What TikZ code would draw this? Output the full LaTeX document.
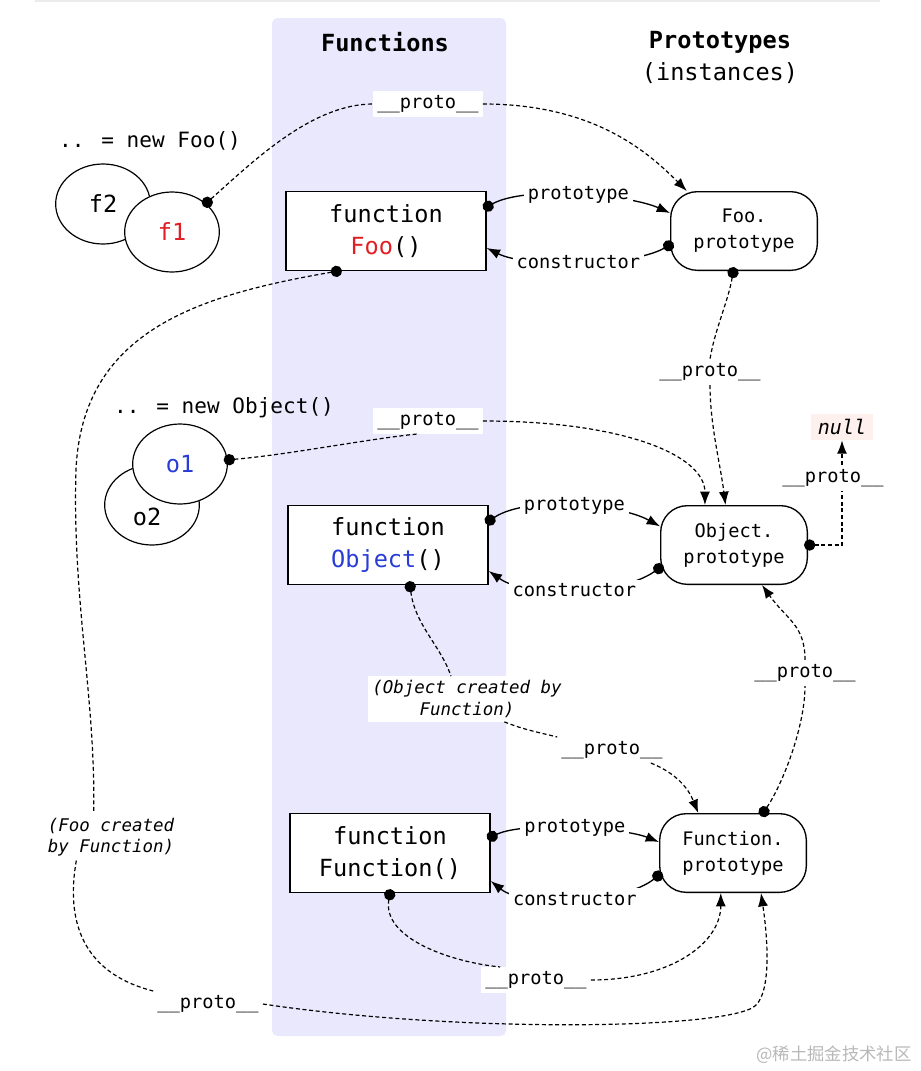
\documentclass[tikz,border=0pt]{standalone}
\usepackage{fontspec}
\setmainfont{DejaVu Sans Mono}
\newfontfamily\cjk{Noto Sans CJK SC}
\usetikzlibrary{arrows.meta,shapes.geometric}

\definecolor{band}{RGB}{234,232,252}
\definecolor{foored}{RGB}{225,30,35}
\definecolor{objblue}{RGB}{40,60,215}
\definecolor{nullbg}{RGB}{253,240,237}

\newcommand\fnfont{\fontsize{17.7}{24}\selectfont}
\newcommand\lblfont{\fontsize{14}{19.5}\selectfont}
\newcommand\capfont{\fontsize{15.8}{19}\selectfont}
\newcommand\notefont{\fontsize{13.1}{16.2}\selectfont}

\tikzset{
  fnbox/.style={draw, line width=1.1pt, fill=white, minimum width=150pt, minimum height=59pt, align=center, font=\fnfont},
  protobox/.style={draw, line width=1pt, rounded corners=20pt, fill=white, minimum width=110pt, minimum height=59pt, align=center, font=\lblfont},
  inst/.style={draw, ellipse, line width=0.9pt, fill=white, minimum width=71pt, minimum height=60pt, inner sep=0pt, font=\fnfont},
  lbl/.style={fill=white, inner sep=3pt, font=\lblfont},
  note/.style={fill=white, inner sep=3pt, font=\notefont\itshape},
  plain/.style={line width=0.9pt, dash pattern=on 3pt off 2pt},
  link/.style={plain, -{Latex[length=10pt,width=7.5pt]}},
  dotlink/.style={plain, {Circle[length=8.5pt]}-, shorten <=-3pt},
  member/.style={line width=1pt, {Circle[length=8.5pt]}-{Latex[length=10pt,width=7.5pt]}, shorten <=-3pt},
}

\begin{document}
\begin{tikzpicture}[x=0.75pt,y=-0.75pt]
  \useasboundingbox (0,0) rectangle (921,1071);
  \fill[band, rounded corners=4pt] (272,18) rectangle (506,1036);
  \draw[black!8, line width=2pt] (35,1) -- (880,1);

  % headers
  \node[font=\fnfont\bfseries] (hfun) at (385,42) {Functions};
  \node[font=\fnfont, align=center] (hproto) at (720,57) {\textbf{Prototypes}\\(instances)};

  % instances
  \node[font=\capfont] (newfoo) at (150,141) {.. = new Foo()};
  \node[inst] (f2) at (103,204) {f2};
  \node[inst, text=foored] (f1) at (172,232) {f1};
  \node[font=\capfont] (newobj) at (224,408) {.. = new Object()};
  \node[inst] (o2) at (152,505) {};
  \node[font=\fnfont] (o2txt) at (147,517) {o2};
  \node[inst, text=objblue] (o1) at (180,464) {o1};

  % functions and prototypes
  \node[fnbox] (FooFn) at (386,231) {function\\\textcolor{foored}{Foo}()};
  \node[fnbox] (ObjFn) at (388,545) {function\\\textcolor{objblue}{Object}()};
  \node[fnbox] (FunFn) at (390,853) {function\\Function()};
  \node[protobox] (FooP) at (744,231) {Foo.\\prototype};
  \node[protobox] (ObjP) at (734,545) {Object.\\prototype};
  \node[protobox] (FunP) at (733,853) {Function.\\prototype};
  \node[fill=nullbg, inner xsep=5pt, inner ysep=4pt, font=\fontsize{15}{18}\selectfont\itshape] (null) at (842,427) {null};

  % __proto__ labels
  \node[lbl] (p1) at (428,104) {\_\_proto\_\_};
  \node[lbl] (p2) at (428,421) {\_\_proto\_\_};
  \node[lbl] (p3) at (710,372) {\_\_proto\_\_};
  \node[lbl] (p5) at (805,673) {\_\_proto\_\_};
  \node[lbl] (p6) at (612,750) {\_\_proto\_\_};
  \node[lbl] (p7) at (536,980) {\_\_proto\_\_};
  \node[lbl] (p8) at (208,1004) {\_\_proto\_\_};
  \node[note, align=center] (objnote) at (467,699) {(Object created by\\Function)};
  \node[note, align=left] (foonote) at (111,837) {(Foo created\\by Function)};

  % prototype / constructor
  \draw[member] ([yshift=18pt]FooFn.east) .. controls +(40,-22) and +(-40,-18) .. node[lbl]{prototype} ([yshift=13.5pt]FooP.west);
  \draw[member] ([yshift=-10.5pt]FooP.west) .. controls +(-40,22) and +(40,20) .. node[lbl]{constructor} ([yshift=-12.75pt]FooFn.east);
  \draw[member] ([yshift=18pt]ObjFn.east) .. controls +(40,-26) and +(-40,-22) .. node[lbl]{prototype} ([yshift=14pt]ObjP.west);
  \draw[member] ([yshift=-17pt]ObjP.west) .. controls +(-40,28) and +(40,28) .. node[lbl]{constructor} ([yshift=-19.5pt]ObjFn.east);
  \draw[member] ([yshift=12pt]FunFn.east) .. controls +(35,-16) and +(-35,-14) .. node[lbl]{prototype} ([yshift=8.25pt]FunP.west);
  \draw[member] ([yshift=-16.5pt]FunP.west) .. controls +(-35,28) and +(35,28) .. node[lbl]{constructor} ([yshift=-21pt]FunFn.east);

  % __proto__ chains
  \draw[dotlink] (f1.40) .. controls +(50,-45) and +(-60,0) .. (p1.west);
  \draw[link] (p1.east) .. controls +(110,0) and +(-40,-40) .. (FooP.145);
  \draw[dotlink] (o1.5) .. controls +(60,-5) and +(-50,5) .. (p2.230);
  \draw[link] (p2.east) .. controls +(140,0) and +(0,-50) .. (ObjP.126);
  \draw[dotlink] (FooP.255) .. controls +(-5,30) and +(5,-30) .. (p3.north);
  \draw[link] (p3.south) .. controls +(0,40) and +(-5,-40) .. (ObjP.102);
  \draw[dotlink] ([xshift=16.5pt]ObjFn.south) .. controls +(5,40) and +(-10,-30) .. ([xshift=-12pt]objnote.north);
  \draw[plain] ([xshift=28pt]objnote.south) .. controls +(20,8) and +(-20,-5) .. (p6.north west);
  \draw[link] ([xshift=-12pt]p6.south east) .. controls +(25,10) and +(-10,-25) .. (FunP.131);
  \draw[dotlink] (FunP.53) .. controls +(20,-30) and +(0,40) .. (p5.south);
  \draw[link] (p5.north) .. controls +(0,-35) and +(25,35) .. (ObjP.-55);
  \draw[dotlink] (FunFn.south) .. controls +(-8,45) and +(-50,-5) .. (p7.160);
  \draw[link] (p7.east) .. controls +(80,0) and +(0,50) .. (FunP.-107);
  \draw[dotlink] ([xshift=-36pt]FooFn.south) .. controls (200,295) and (82,330) .. (76,470)
    .. controls (72,600) and (96,700) .. ([xshift=-13pt]foonote.north);
  \draw[plain] ([xshift=-26pt]foonote.south) .. controls (64,930) and (90,975) .. (p8.north west);
  \draw[link] (p8.east) .. controls (450,1032) and (710,1030) .. (752,1008)
    .. controls (772,998) and (768,940) .. (FunP.-55);

  \node[lbl] (p4) at (833,478) {\_\_proto\_\_};
  \draw[dotlink] (ObjP.east) -| (p4.south -| null.south);
  \draw[link] (p4.north -| null.south) -- (null.south);

  \node[font=\cjk\fontsize{13}{15}\selectfont, text=black!28] (mark) at (834,1055) {@稀土掘金技术社区};
\end{tikzpicture}
\end{document}
